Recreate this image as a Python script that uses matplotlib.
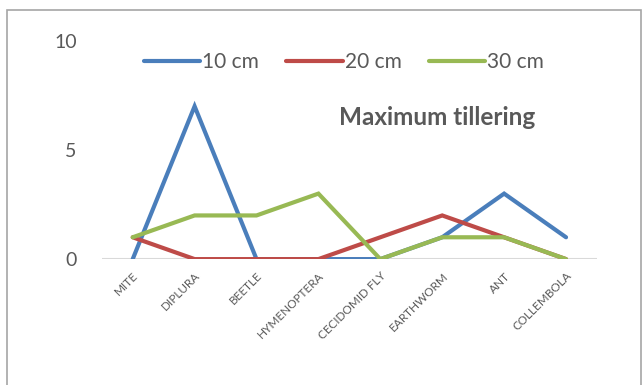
import matplotlib.pyplot as plt
from matplotlib.patches import Rectangle

categories = ["MITE", "DIPLURA", "BEETLE", "HYMENOPTERA", "CECIDOMID FLY",
              "EARTHWORM", "ANT", "COLLEMBOLA"]
depth_10 = [0, 7, 0, 0, 0, 1, 3, 1]
depth_20 = [1, 0, 0, 0, 1, 2, 1, 0]
depth_30 = [1, 2, 2, 3, 0, 1, 1, 0]
series_names = ["10 cm", "20 cm", "30 cm"]
colors = ["#4A7EBB", "#BE4B48", "#98B954"]
y_ticks = [0, 5, 10]

plt.rcParams["font.family"] = ["Lato", "DejaVu Sans"]
text_gray = "#595959"

fig = plt.figure(figsize=(6.44, 3.85), dpi=100)
ax = fig.add_axes([0.158, 0.327, 0.769, 0.567])

x = range(len(categories))
for vals, name, c in zip([depth_10, depth_20, depth_30], series_names, colors):
    ax.plot(x, vals, color=c, linewidth=3, label=name, solid_capstyle="round",
            solid_joinstyle="miter")

ax.set_xlim(-0.5, len(categories) - 0.5)
ax.set_ylim(0, 10)
ax.set_yticks(y_ticks)
ax.set_yticklabels([str(v) for v in y_ticks], fontsize=14, color=text_gray)
ax.set_xticks(list(x))
ax.set_xticklabels(categories, rotation=45, ha="right", rotation_mode="anchor",
                   fontsize=8.5, color=text_gray)
ax.tick_params(axis="both", length=0)
ax.tick_params(axis="y", pad=18)
ax.tick_params(axis="x", pad=8)
for s in ax.spines.values():
    s.set_visible(False)
ax.axhline(0, color="#D9D9D9", linewidth=1.5, zorder=0)

ax.text(0.678, 0.65, "Maximum tillering", transform=ax.transAxes, ha="center",
        va="center", fontsize=17.5, fontweight="bold", color=text_gray)

fig.legend(loc="center", bbox_to_anchor=(0.534, 0.838), ncol=3, frameon=False,
           fontsize=15, handlelength=2.7, handletextpad=0.1, columnspacing=1.3,
           labelcolor=text_gray)

fig.patches.append(Rectangle((7 / 644, -0.05), 634 / 644, 1 - 10 / 385 + 0.05,
                             transform=fig.transFigure, fill=False,
                             edgecolor="#A6A6A6", linewidth=1.2))

fig.savefig("out.png", dpi=100)
